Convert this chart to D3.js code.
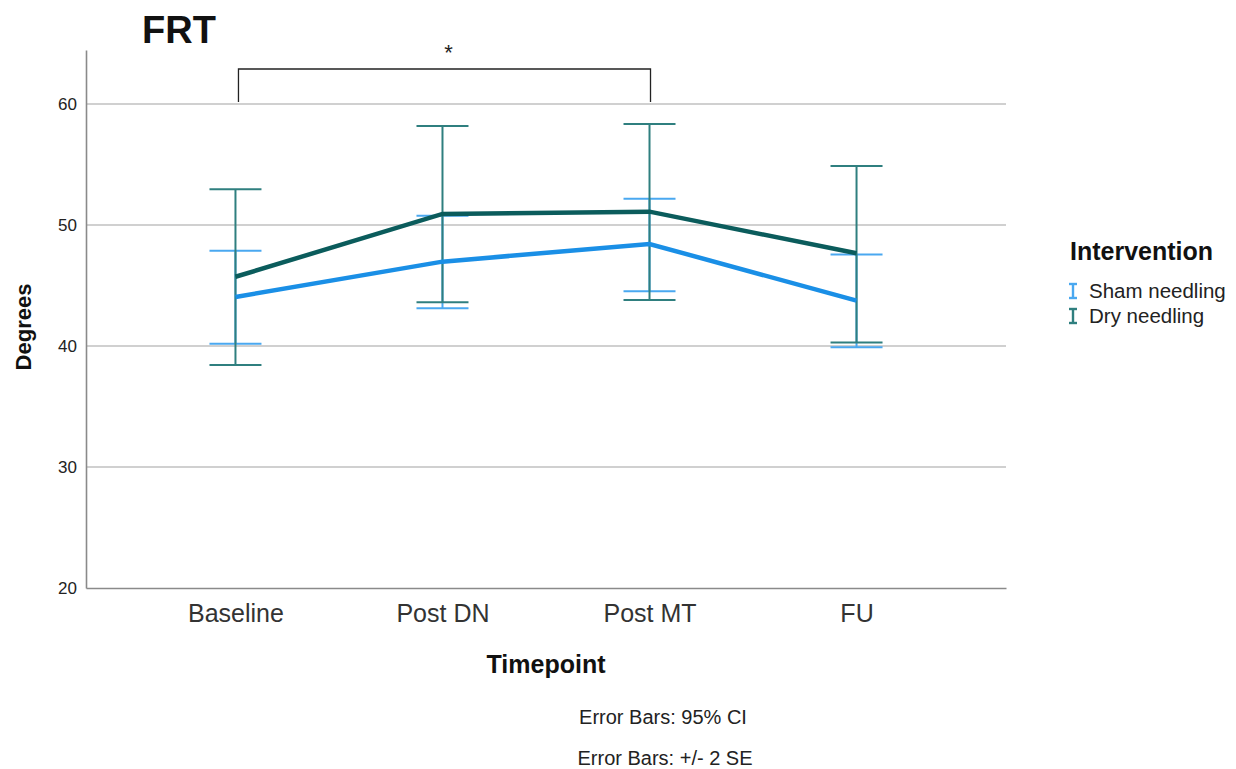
<!DOCTYPE html>
<html>
<head>
<meta charset="utf-8">
<script src="https://cdn.jsdelivr.net/npm/d3@7"></script>
<style>
  body { margin: 0; background: #fff; }
  svg { font-family: "Liberation Sans", Arial, sans-serif; }
</style>
</head>
<body>
<svg id="chart" width="1236" height="769"></svg>
<script>
// data
const timepoints = ['Baseline', 'Post DN', 'Post MT', 'FU'];
const groups = ['Sham needling', 'Dry needling'];
const shamMean = [44.05, 46.97, 48.43, 43.75];
const shamLow = [40.19, 43.11, 44.52, 39.89];
const shamHigh = [47.87, 50.77, 52.17, 47.55];
const dryMean = [45.72, 50.91, 51.10, 47.66];
const dryLow = [38.43, 43.61, 43.80, 40.28];
const dryHigh = [52.96, 58.18, 58.35, 54.88];
const yTicks = [20, 30, 40, 50, 60];

const series = [
  {name: groups[0], mean: shamMean, low: shamLow, high: shamHigh, line: '#1a8fe6', bar: '#4aa8f0'},
  {name: groups[1], mean: dryMean, low: dryLow, high: dryHigh, line: '#0b5c5c', bar: '#2f7f7f'}
];

const svg = d3.select('#chart');
const margin = {left: 86, top: 50, right: 230, bottom: 181};
const w = 1236 - margin.left - margin.right;
const h = 769 - margin.top - margin.bottom;

const x = d3.scalePoint().domain(timepoints).range([0, w]).padding(0.722);
const y = d3.scaleLinear().domain([20, 64.46]).range([h, 0]);

const g = svg.append('g').attr('transform', `translate(${margin.left},${margin.top})`);

// gridlines
g.append('g').selectAll('line').data(yTicks.slice(1)).enter().append('line')
  .attr('x1', 0).attr('x2', w)
  .attr('y1', d => y(d)).attr('y2', d => y(d))
  .attr('stroke', '#d0d0d0').attr('stroke-width', 2);

// axes
const yAxis = g.append('g').call(d3.axisLeft(y).tickValues(yTicks).tickSize(0).tickPadding(9));
yAxis.select('.domain').attr('stroke', '#8a8a8a').attr('stroke-width', 1.6);
yAxis.selectAll('text').attr('font-size', 17).attr('fill', '#222').attr('font-family', '"Liberation Sans", Arial, sans-serif');

const xAxis = g.append('g').attr('transform', `translate(0,${h})`)
  .call(d3.axisBottom(x).tickSize(0).tickPadding(16));
xAxis.select('.domain').attr('stroke', '#8a8a8a').attr('stroke-width', 1.6);
xAxis.selectAll('text').attr('font-size', 25).attr('fill', '#333').attr('font-family', '"Liberation Sans", Arial, sans-serif');

// significance bracket
const bracketY = 69 - margin.top;
g.append('path')
  .attr('d', `M${x('Baseline') + 3},${y(60) - 2}V${bracketY}H${x('Post MT') + 1}V${y(60) - 2}`)
  .attr('fill', 'none').attr('stroke', '#222').attr('stroke-width', 1.3);
g.append('text')
  .attr('x', (x('Baseline') + x('Post MT')) / 2 + 6).attr('y', bracketY - 9)
  .attr('text-anchor', 'middle').attr('font-size', 22).attr('fill', '#222').text('*');

// error bars
const cap = 26;
series.forEach(s => {
  const eb = g.append('g').attr('stroke', s.bar).attr('stroke-width', 2);
  timepoints.forEach((t, i) => {
    const cx = x(t);
    eb.append('line').attr('x1', cx).attr('x2', cx).attr('y1', y(s.high[i])).attr('y2', y(s.low[i]));
    eb.append('line').attr('x1', cx - cap).attr('x2', cx + cap).attr('y1', y(s.high[i])).attr('y2', y(s.high[i]));
    eb.append('line').attr('x1', cx - cap).attr('x2', cx + cap).attr('y1', y(s.low[i])).attr('y2', y(s.low[i]));
  });
});

// mean lines
const line = d3.line().x((d, i) => x(timepoints[i])).y(d => y(d));
series.forEach(s => {
  g.append('path').datum(s.mean)
    .attr('d', line).attr('fill', 'none')
    .attr('stroke', s.line).attr('stroke-width', 4.5);
});

// titles
svg.append('text').attr('x', 142).attr('y', 43)
  .attr('font-size', 38).attr('font-weight', 'bold').attr('fill', '#111').text('FRT');
svg.append('text').attr('transform', 'translate(31,327) rotate(-90)')
  .attr('text-anchor', 'middle').attr('font-size', 22).attr('font-weight', 'bold').attr('fill', '#111').text('Degrees');
svg.append('text').attr('x', 546).attr('y', 673)
  .attr('text-anchor', 'middle').attr('font-size', 25).attr('font-weight', 'bold').attr('fill', '#111').text('Timepoint');

// legend
const lg = svg.append('g').attr('transform', 'translate(1070,0)');
lg.append('text').attr('x', 0).attr('y', 260)
  .attr('font-size', 25).attr('font-weight', 'bold').attr('fill', '#111').text('Intervention');
series.forEach((s, i) => {
  const ly = 298 + i * 25;
  const ig = lg.append('g').attr('stroke', s.bar).attr('stroke-width', 2.4);
  ig.append('line').attr('x1', 3).attr('x2', 3).attr('y1', ly - 14).attr('y2', ly);
  ig.append('line').attr('x1', -1).attr('x2', 7).attr('y1', ly - 14).attr('y2', ly - 14);
  ig.append('line').attr('x1', -1).attr('x2', 7).attr('y1', ly).attr('y2', ly);
  lg.append('text').attr('x', 19).attr('y', ly)
    .attr('font-size', 20.5).attr('fill', '#222').text(s.name);
});

// footnotes
svg.append('text').attr('x', 663).attr('y', 724)
  .attr('text-anchor', 'middle').attr('font-size', 20).attr('fill', '#222').text('Error Bars: 95% CI');
svg.append('text').attr('x', 665).attr('y', 765)
  .attr('text-anchor', 'middle').attr('font-size', 20).attr('fill', '#222').text('Error Bars: +/- 2 SE');
</script>
</body>
</html>
